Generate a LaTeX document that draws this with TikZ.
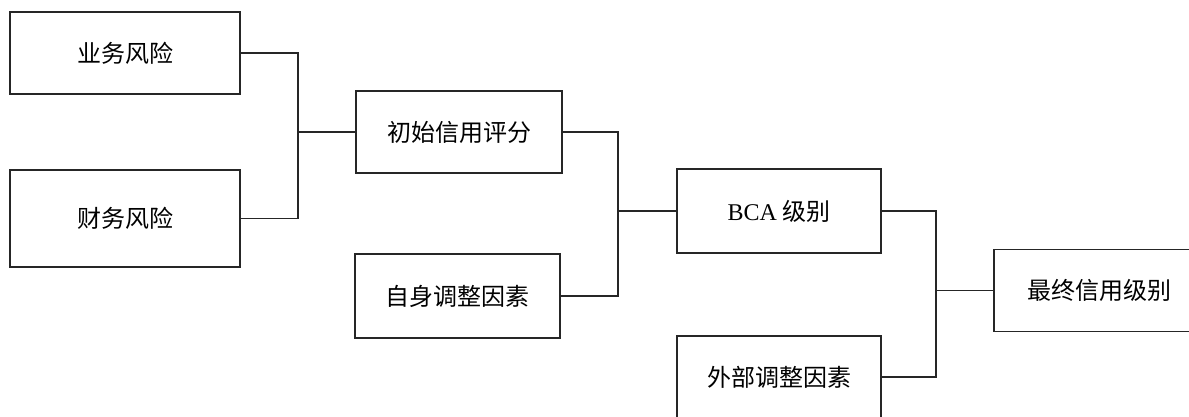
\documentclass[tikz,border=0pt]{standalone}
\usepackage{fontspec}
\setmainfont{Liberation Serif}
\newfontfamily\cjk{Noto Sans CJK SC}
\begin{document}
\begin{tikzpicture}[x=1pt,y=-1pt,
  box/.style={draw=black!85,line width=1.3pt,rectangle,inner sep=0pt,
    font=\fontsize{24}{28}\selectfont\cjk},
  link/.style={draw=black!85,line width=1.3pt}]
\useasboundingbox (0,0) rectangle (1189,416);
\node[box,minimum width=230pt,minimum height=82pt] (a) at (125,53) {业务风险};
\node[box,minimum width=230pt,minimum height=97pt] (b) at (125,218.5) {财务风险};
\node[box,minimum width=206pt,minimum height=82pt] (c) at (459,132) {初始信用评分};
\node[box,minimum width=205pt,minimum height=84pt] (d) at (457.5,296) {自身调整因素};
\node[box,minimum width=204pt,minimum height=84pt] (e) at (779,211) {{\rmfamily BCA} 级别};
\node[box,minimum width=204pt,minimum height=82pt] (f) at (779,377) {外部调整因素};
\node[box,minimum width=211pt,minimum height=82pt] (g) at (1099.5,290.5) {最终信用级别};
\coordinate (j1) at (298,132);
\coordinate (j2) at (618,211);
\coordinate (j3) at (936,290.5);
\draw[link] (a.east) -| (j1);
\draw[link] (b.east) -| (j1);
\draw[link] (j1) -- (c.west);
\draw[link] (c.east) -| (j2);
\draw[link] (d.east) -| (j2);
\draw[link] (j2) -- (e.west);
\draw[link] (e.east) -| (j3);
\draw[link] (f.east) -| (j3);
\draw[link] (j3) -- (g.west);
\end{tikzpicture}
\end{document}
